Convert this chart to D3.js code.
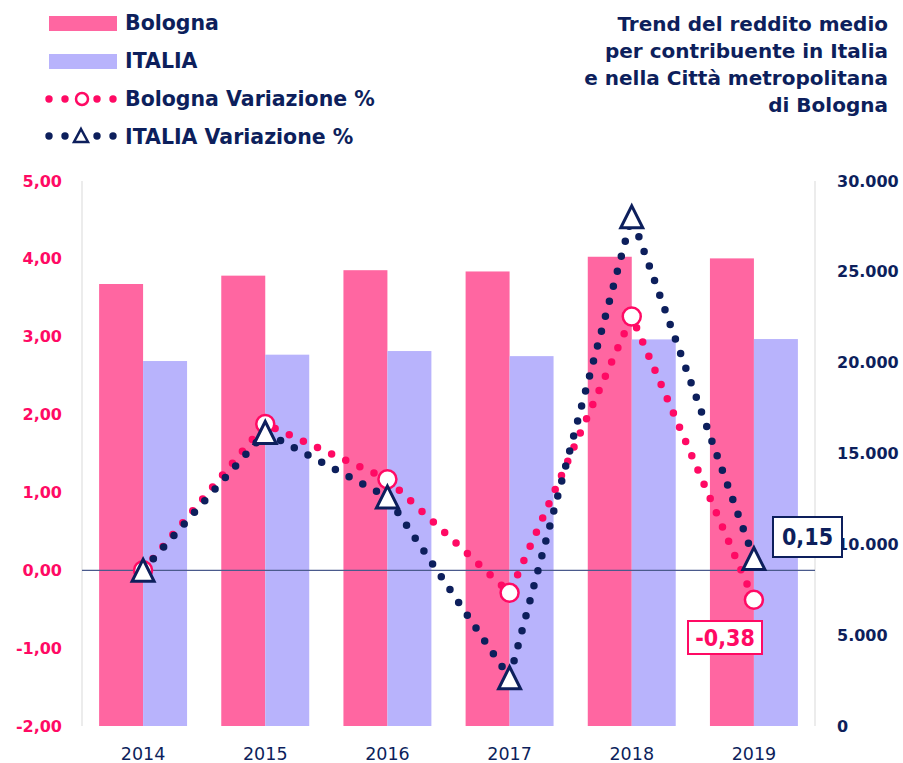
<!DOCTYPE html>
<html>
<head>
<meta charset="utf-8">
<script src="https://cdn.jsdelivr.net/npm/d3@7"></script>
<style>
  body { margin: 0; background: #fff; }
  text { font-family: "DejaVu Sans", sans-serif; }
</style>
</head>
<body>
<script>
// data
var years = ['2014', '2015', '2016', '2017', '2018', '2019'];
var redditoBologna = [24330, 24790, 25090, 25020, 25830, 25740];
var redditoItalia = [20090, 20440, 20640, 20360, 21280, 21300];
var varBologna = [0, 1.88, 1.17, -0.29, 3.26, -0.38];
var varItalia = [0, 1.77, 0.94, -1.38, 4.54, 0.15];
var leftTicks = [-2, -1, 0, 1, 2, 3, 4, 5];
var rightTicks = [0, 5000, 10000, 15000, 20000, 25000, 30000];

var W = 903, H = 763;
var navy = '#0d1f5c', hotPink = '#ff0a64';
var pinkBar = '#ff66a1', lavBar = '#b8b3fc';

var loc = d3.formatLocale({decimal: ',', thousands: '.', grouping: [3], currency: ['', '€'], minus: '-'});
var fmtL = loc.format('.2f'), fmtR = loc.format(',.0f');

var svg = d3.select('body').append('svg')
  .attr('width', W).attr('height', H);

var x = d3.scaleBand().domain(years).range([82, 815]).paddingInner(0.28).paddingOuter(0.14);
var xs = d3.scaleBand().domain(['b', 'i']).range([0, x.bandwidth()]);
var yL = d3.scaleLinear().domain([-2, 5]).range([726, 181]);
var yR = d3.scaleLinear().domain([0, 30000]).range([726, 181]);

// axis lines
svg.append('line').attr('x1', 82).attr('x2', 82).attr('y1', 181).attr('y2', 726)
  .attr('stroke', '#d9d9d9').attr('stroke-width', 1);
svg.append('line').attr('x1', 815).attr('x2', 815).attr('y1', 181).attr('y2', 726)
  .attr('stroke', '#d9d9d9').attr('stroke-width', 1);

// bars
var g = svg.append('g');
g.selectAll('rect.b').data(years).enter().append('rect')
  .attr('x', function(d) { return x(d) + xs('b'); })
  .attr('y', function(d, i) { return yR(redditoBologna[i]); })
  .attr('width', xs.bandwidth())
  .attr('height', function(d, i) { return yR(0) - yR(redditoBologna[i]); })
  .attr('fill', pinkBar);
g.selectAll('rect.i').data(years).enter().append('rect')
  .attr('x', function(d) { return x(d) + xs('i'); })
  .attr('y', function(d, i) { return yR(redditoItalia[i]); })
  .attr('width', xs.bandwidth())
  .attr('height', function(d, i) { return yR(0) - yR(redditoItalia[i]); })
  .attr('fill', lavBar);

// zero line
svg.append('line').attr('x1', 82).attr('x2', 815).attr('y1', yL(0)).attr('y2', yL(0))
  .attr('stroke', '#4a5a8c').attr('stroke-width', 1.2);

// left axis
var axL = svg.append('g').attr('transform', 'translate(62,0)')
  .call(d3.axisLeft(yL).tickValues(leftTicks).tickFormat(fmtL).tickSize(0).tickPadding(0));
axL.select('.domain').remove();
axL.selectAll('text').attr('fill', hotPink).attr('font-size', 16).attr('font-weight', 700)
  .attr('font-family', '"DejaVu Sans", sans-serif');

// right axis
var axR = svg.append('g').attr('transform', 'translate(837,0)')
  .call(d3.axisRight(yR).tickValues(rightTicks).tickFormat(fmtR).tickSize(0).tickPadding(0));
axR.select('.domain').remove();
axR.selectAll('text').attr('fill', navy).attr('font-size', 16).attr('font-weight', 700)
  .attr('font-family', '"DejaVu Sans", sans-serif');

// x axis
var axX = svg.append('g').attr('transform', 'translate(0,748)')
  .call(d3.axisBottom(x).tickSize(0).tickPadding(0));
axX.select('.domain').remove();
axX.selectAll('text').attr('fill', navy).attr('font-size', 17.5)
  .attr('font-family', '"DejaVu Sans", sans-serif');

// lines (straight, dotted)
var cx = function(i) { return x(years[i]) + x.bandwidth() / 2; };
var lineL = d3.line().x(function(d, i) { return cx(i); }).y(function(d) { return yL(d); });

svg.append('path').datum(varBologna).attr('d', lineL)
  .attr('fill', 'none').attr('stroke', hotPink).attr('stroke-width', 7.5)
  .attr('stroke-linecap', 'round').attr('stroke-dasharray', '0 15.5');
svg.append('path').datum(varItalia).attr('d', lineL)
  .attr('fill', 'none').attr('stroke', navy).attr('stroke-width', 7.5)
  .attr('stroke-linecap', 'round').attr('stroke-dasharray', '0 15.5');

var tri = 'M0,-11L11,11L-11,11Z';

svg.selectAll('circle.m').data(varBologna).enter().append('circle')
  .attr('cx', function(d, i) { return cx(i); })
  .attr('cy', function(d) { return yL(d); })
  .attr('r', 9).attr('fill', '#fff').attr('stroke', hotPink).attr('stroke-width', 2.5);
svg.selectAll('path.t').data(varItalia).enter().append('path')
  .attr('d', tri)
  .attr('transform', function(d, i) { return 'translate(' + cx(i) + ',' + yL(d) + ')'; })
  .attr('fill', '#fff').attr('stroke', navy).attr('stroke-width', 3).attr('stroke-linejoin', 'miter');

// value labels
function boxLabel(bx, by, bw, bh, txt, col) {
  svg.append('rect').attr('x', bx).attr('y', by).attr('width', bw).attr('height', bh)
    .attr('fill', '#fff').attr('stroke', col).attr('stroke-width', 2);
  svg.append('text').attr('x', bx + bw / 2).attr('y', by + bh / 2 + 8)
    .attr('text-anchor', 'middle').attr('fill', col).attr('font-size', 23).attr('font-weight', 700)
    .attr('font-family', '"DejaVu Sans Condensed", "DejaVu Sans", sans-serif')
    .style('font-stretch', 'condensed')
    .text(txt);
}
boxLabel(773, 517, 69, 40, fmtL(varItalia[5]), navy);
boxLabel(688, 621, 74, 33, fmtL(varBologna[5]), hotPink);

// legend
var lg = svg.append('g');
lg.append('rect').attr('x', 49).attr('y', 16).attr('width', 68).attr('height', 15).attr('fill', pinkBar);
lg.append('rect').attr('x', 49).attr('y', 54).attr('width', 68).attr('height', 15).attr('fill', lavBar);
[49, 65, 97, 113].forEach(function(px) {
  lg.append('circle').attr('cx', px).attr('cy', 99).attr('r', 3.7).attr('fill', hotPink);
  lg.append('circle').attr('cx', px).attr('cy', 136).attr('r', 3.7).attr('fill', navy);
});
lg.append('circle').attr('cx', 82).attr('cy', 99).attr('r', 6).attr('fill', '#fff')
  .attr('stroke', hotPink).attr('stroke-width', 2.5);
lg.append('path').attr('d', 'M0,-7L7,6L-7,6Z').attr('transform', 'translate(81,136)')
  .attr('fill', '#fff').attr('stroke', navy).attr('stroke-width', 2.5);
var legNames = ['Bologna', 'ITALIA', 'Bologna Variazione %', 'ITALIA Variazione %'];
var legY = [30, 68, 106, 144];
lg.selectAll('text').data(legNames).enter().append('text')
  .attr('x', 125).attr('y', function(d, i) { return legY[i]; })
  .attr('fill', navy).attr('font-size', 20.5).attr('font-weight', 700)
  .text(function(d) { return d; });

// title
var titleLines = ['Trend del reddito medio', 'per contribuente in Italia', 'e nella Città metropolitana', 'di Bologna'];
svg.selectAll('text.title').data(titleLines).enter().append('text')
  .attr('x', 888).attr('y', function(d, i) { return 31 + i * 27; })
  .attr('text-anchor', 'end').attr('fill', navy).attr('font-size', 20).attr('font-weight', 700)
  .text(function(d) { return d; });
</script>
</body>
</html>
